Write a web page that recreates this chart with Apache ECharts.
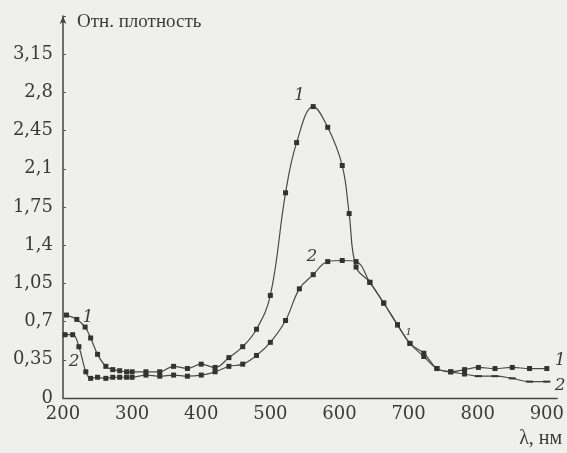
<!DOCTYPE html>
<html>
<head>
<meta charset="utf-8">
<script src="https://cdn.jsdelivr.net/npm/echarts@6/dist/echarts.min.js"></script>
<style>
  html, body { margin: 0; padding: 0; background: #efefed; }
  #chart { width: 567px; height: 453px; }
</style>
</head>
<body>
<div id="chart"></div>
<script>
// curve 1
const wave1 = [205, 220, 232, 240, 250, 262, 272, 282, 292, 300, 320, 340, 360, 380, 400, 420, 440, 460, 480, 500,
  522, 538, 562, 583, 604, 614, 624, 644, 664, 684, 702, 722, 741, 761, 781, 801, 825, 850, 875, 900]
const dens1 = [0.76, 0.72, 0.65, 0.55, 0.40, 0.29, 0.26, 0.25, 0.24, 0.24, 0.24, 0.24, 0.29, 0.27, 0.31, 0.28, 0.37, 0.47, 0.63, 0.94,
  1.88, 2.34, 2.67, 2.48, 2.13, 1.69, 1.20, 1.06, 0.87, 0.67, 0.50, 0.38, 0.27, 0.24, 0.26, 0.28, 0.27, 0.28, 0.27, 0.27]
// curve 2
const wave2 = [203, 214, 223, 233, 240, 250, 262, 272, 282, 292, 300, 320, 340, 360, 380, 400, 420, 440, 460, 480, 500,
  522, 542, 562, 583, 604, 624, 644, 664, 684, 702, 722, 741, 761, 781, 801, 825, 850, 875, 900]
const dens2 = [0.58, 0.58, 0.47, 0.24, 0.18, 0.19, 0.18, 0.19, 0.19, 0.19, 0.19, 0.21, 0.20, 0.21, 0.20, 0.21, 0.24, 0.29, 0.31, 0.39, 0.51,
  0.71, 1.00, 1.13, 1.25, 1.26, 1.25, 1.06, 0.87, 0.67, 0.50, 0.41, 0.27, 0.24, 0.22, 0.20, 0.20, 0.18, 0.15, 0.15]
const yTicks = ['0', '0,35', '0,7', '1,05', '1,4', '1,75', '2,1', '2,45', '2,8', '3,15']

const serif = 'DejaVu Serif'
const ink = '#3a3a3a'

const chart = echarts.init(document.getElementById('chart'))

const curve = (name, xs, ys, endText) => ({
    name: name,
    type: 'line',
    data: xs.map((x, i) => [x, ys[i]]),
    smooth: 0.4,
    symbol: 'rect',
    symbolSize: v => (name === '2' && v[0] > 790) ? [7, 2] : 5,
    lineStyle: { color: '#4a4a4a', width: 1.2 },
    itemStyle: { color: '#333' },
    endLabel: {
        show: true,
        formatter: endText,
        fontFamily: serif,
        fontStyle: 'italic',
        fontSize: 17,
        color: ink,
        distance: 8,
        offset: name === '2' ? [0, 4] : [0, -8]
    },
    animation: false
})

const s1 = curve('1', wave1, dens1, '1')
const s2 = curve('2', wave2, dens2, '2')

const note = (coord, text, size) => ({
    coord: coord,
    symbol: 'rect',
    symbolSize: 1,
    itemStyle: { color: 'rgba(0,0,0,0)' },
    label: { show: true, position: 'inside', formatter: text, fontFamily: serif, fontStyle: 'italic', fontSize: size, color: ink }
})
s1.markPoint = { silent: true, animation: false, data: [note([236, 0.74], '1', 17), note([542, 2.77], '1', 17), note([700, 0.6], '1', 10)] }
s2.markPoint = { silent: true, animation: false, data: [note([216, 0.33], '2', 17), note([560, 1.3], '2', 17)] }

chart.setOption({
    backgroundColor: '#efefed',
    grid: { left: 63, right: 9, top: 16, bottom: 55 },
    xAxis: {
        type: 'value',
        min: 200,
        max: 915,
        interval: 100,
        name: 'λ, нм',
        nameLocation: 'end',
        nameGap: 5,
        nameTextStyle: { fontFamily: 'Liberation Serif', fontSize: 20, color: ink, align: 'right', verticalAlign: 'top', padding: [31, 0, 0, 0] },
        axisLine: { lineStyle: { color: '#444', width: 1.3 } },
        axisTick: { show: false },
        splitLine: { show: false },
        axisLabel: {
            fontFamily: serif, fontSize: 18, color: ink, margin: 7,
            formatter: v => (v % 100 === 0 ? String(v) : '')
        }
    },
    yAxis: {
        type: 'value',
        min: 0,
        max: 3.5,
        interval: 0.35,
        name: 'Отн. плотность',
        nameLocation: 'end',
        nameGap: -6,
        nameTextStyle: { fontFamily: 'Liberation Serif', fontSize: 19, color: ink, align: 'left', verticalAlign: 'middle', padding: [0, 0, 0, 14] },
        axisLine: { show: true, symbol: ['none', 'arrow'], symbolSize: [5, 8], lineStyle: { color: '#444', width: 1.5 } },
        axisTick: { show: true, inside: true, length: 3, lineStyle: { color: '#555' } },
        splitLine: { show: false },
        axisLabel: {
            fontFamily: serif, fontSize: 18, color: ink, margin: 10,
            formatter: (v) => {
                const i = Math.round(v / 0.35)
                return i < yTicks.length ? yTicks[i] : ''
            }
        }
    },
    series: [s1, s2]
})
</script>
</body>
</html>
